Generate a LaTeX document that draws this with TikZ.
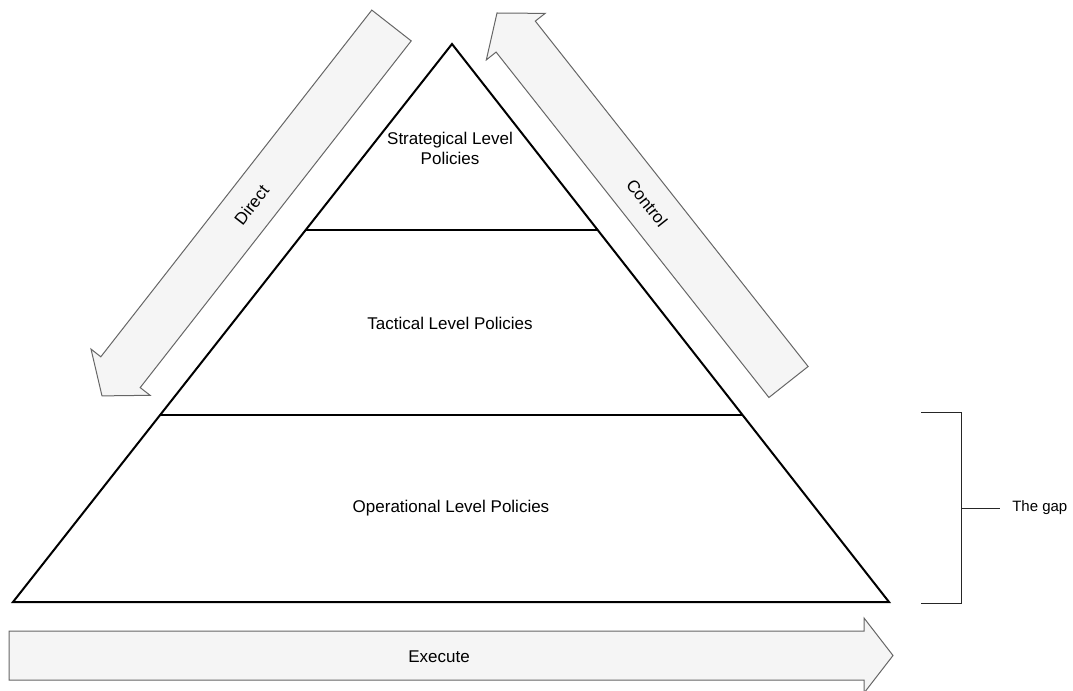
\documentclass[tikz,border=0pt]{standalone}
\usepackage{fontspec}
\setmainfont{Liberation Sans}
\usetikzlibrary{calc}
\definecolor{arrowfill}{HTML}{F5F5F5}
\definecolor{arrowline}{HTML}{666666}

\begin{document}
\begin{tikzpicture}[x=0.75pt,y=-0.75pt,
  level/.style={line width=1.5pt,line join=miter},
  bigarrow/.style={draw=arrowline,fill=arrowfill,line width=0.75pt,line join=miter},
  lbl/.style={font=\fontsize{12.75}{15}\selectfont,inner sep=0pt,align=center},
  gaplbl/.style={font=\fontsize{11.25}{13}\selectfont,inner sep=0pt,inner xsep=9pt},
  brace/.style={line width=0.75pt,draw=black!85}]
  \useasboundingbox (0,0) rectangle (1073,691);
  % pyramid
  \coordinate (apex) at (452,44);
  \coordinate (bl) at (13,602);
  \coordinate (br) at (889,602);
  \draw[level] (apex)--(bl)--(br)--cycle;
  \coordinate (l1a) at ($(apex)!0.3333!(bl)$);\coordinate (l1b) at ($(apex)!0.3333!(br)$);
  \coordinate (l2a) at ($(apex)!0.665!(bl)$);\coordinate (l2b) at ($(apex)!0.665!(br)$);
  \draw[level] (l1a)--(l1b);
  \draw[level] (l2a)--(l2b);
  \node[lbl] (strat) at (450,148){Strategical Level\\Policies};
  \node[lbl] (tact) at (450,323){Tactical Level Policies};
  \node[lbl] (oper) at (451,508){Operational Level Policies};
  % side arrows
  \draw[bigarrow](411.2,40.9)--(140.2,387.6)--(150.1,395.3)--(102,395.9)--(91,349.1)--(100.8,356.8)--(371.8,10.1)--cycle;
  \node[lbl,rotate=52] (direct) at (251.5,205){Direct};
  \draw[bigarrow](808.1,366.5)--(535.3,21.1)--(545.1,13.4)--(497,13)--(486.3,59.9)--(496.1,52.1)--(768.9,397.5)--cycle;
  \node[lbl,rotate=-51.7] (control) at (647,203){Control};
  % bottom arrow
  \draw[bigarrow](9,631)--(864,631)--(864,618)--(893,655.5)--(864,693)--(864,680)--(9,680)--cycle;
  \node[lbl] (execute) at (439,657){Execute};
  % bracket
  \coordinate (bt) at (921,412);\coordinate (bb) at (921,603);
  \coordinate (bm) at (961,508);
  \draw[brace] (bt)--(bt-|bm)--(bb-|bm)--(bb);
  \node[gaplbl,anchor=west] (gap) at (1000,508){The gap};
  \draw[brace] (bm)--(gap.west);
\end{tikzpicture}
\end{document}
